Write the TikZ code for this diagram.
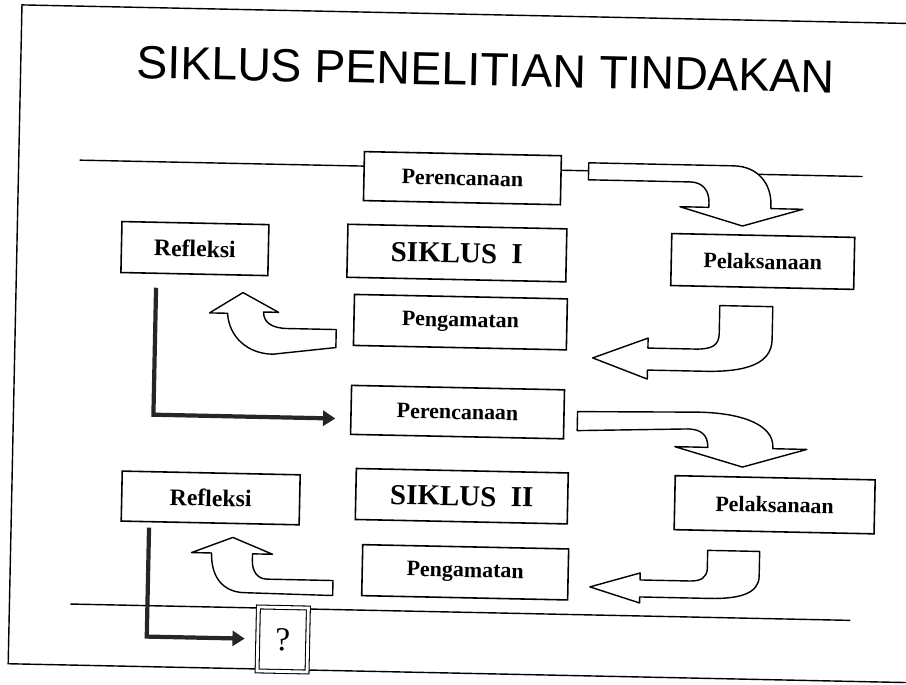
\documentclass[tikz,border=0pt]{standalone}
\usepackage{fontspec}
\setmainfont{Liberation Serif}
\newfontfamily\judulfont{Liberation Sans}
\usetikzlibrary{arrows.meta}
\tikzset{
	kotak/.style = {draw=black, fill=white, line width=0.9pt, inner sep=0pt,
		align=center, font=\fontsize{12.5}{15}\selectfont\bfseries},% kotak biasa
	kotak_s/.style = {kotak, font=\fontsize{16.5}{20}\selectfont\bfseries},% kotak siklus
	kotak_r/.style = {kotak, font=\fontsize{13.5}{16}\selectfont\bfseries},% kotak refleksi
	kotak_q/.style = {draw=black, fill=white, double, double distance=1.6pt,
		line width=0.6pt, inner sep=0pt, font=\fontsize{19}{22}\selectfont},% kotak tanya
	panah/.style = {draw=black, fill=white, line width=0.8pt, line join=round},% panah blok
	garis/.style = {draw=black!85, line width=2.4pt,
		-{Triangle[length=7pt,width=8.5pt]}}% panah tebal
}
\begin{document}
\begin{tikzpicture}[x=0.02cm, y=-0.02cm]
	\clip (0,0) rectangle (906,685);
	\begin{scope}[rotate around={-1.2:(453,342)}, transform shape]
	% bingkai dan garis
	\draw[line width=0.8pt] (930,14) -- (15,14) -- (15,673) -- (930,673);
	\draw[line width=0.8pt] (76,168) -- (859,168);
	\draw[line width=0.8pt] (76,612) -- (856,612);
	\node (judul) at (480,69) {\judulfont\fontsize{26.5}{30}\selectfont SIKLUS PENELITIAN TINDAKAN};
	% siklus I
	\node[kotak, minimum width=3.94cm, minimum height=0.98cm] (per1) at (459,178) {Perencanaan};
	\node[kotak_s, minimum width=4.38cm, minimum height=1.06cm] (sik1) at (455,253) {SIKLUS\ \ I};
	\node[kotak, minimum width=3.66cm, minimum height=1.04cm] (pel1) at (761,255) {Pelaksanaan};
	\node[kotak, minimum width=4.26cm, minimum height=1.02cm] (pen1) at (460,322) {Pengamatan};
	\node[kotak_r, minimum width=2.94cm, minimum height=1.02cm] (ref1) at (193,254) {Refleksi};
	% siklus II
	\node[kotak, minimum width=4.26cm, minimum height=0.98cm] (per2) at (459,412) {Perencanaan};
	\node[kotak_s, minimum width=4.24cm, minimum height=1.02cm] (sik2) at (465,496) {SIKLUS\ \ II};
	\node[kotak, minimum width=4.0cm, minimum height=1.08cm] (pel2) at (778,498) {Pelaksanaan};
	\node[kotak, minimum width=4.12cm, minimum height=1.02cm] (pen2) at (470,572) {Pengamatan};
	\node[kotak_r, minimum width=3.56cm, minimum height=1.0cm] (ref2) at (214,503) {Refleksi};
	\node[kotak_q, minimum width=1.0cm, minimum height=1.28cm] (tanya) at (289,643) {?};
	% panah blok
	\draw[panah] (585,160) -- (730,160) .. controls (755,160) and (768,178) .. (768,198)
		-- (768,202) -- (800,202) -- (740,220) -- (677,202) -- (706,202) -- (706,197)
		.. controls (706,185) and (699,177) .. (687,177) -- (585,177) -- cycle;
	\draw[panah] (719,300) -- (772,300) -- (772,333) .. controls (772,358) and (745,366) .. (705,366)
		-- (648,366) -- (648,375) -- (593,355) -- (648,334) -- (648,344) -- (695,344)
		.. controls (712,344) and (719,340) .. (719,328) -- cycle;
	\draw[panah] (336,332) -- (287,332) .. controls (271,332) and (263,326) .. (263,316)
		-- (278,316) -- (242,297) -- (209,318) -- (227,318)
		.. controls (229,342) and (248,358) .. (273,358) -- (336,350) -- cycle;
	\draw[panah] (579,409) -- (700,407) .. controls (748,407) and (775,420) .. (775,440)
		-- (775,442) -- (809,442) -- (745,461) -- (677,442) -- (710,442)
		.. controls (710,430) and (703,424) .. (690,424) -- (579,428) -- cycle;
	\draw[panah] (712,545) -- (764,545) -- (764,570) .. controls (764,587) and (745,593) .. (715,593)
		-- (645,593) -- (645,599) -- (595,584) -- (645,569) -- (645,576) -- (695,576)
		.. controls (706,576) and (712,572) .. (712,563) -- cycle;
	\draw[panah] (338,583) -- (272,583) .. controls (262,583) and (257,575) .. (257,565)
		-- (257,558) -- (277,558) -- (237,542) -- (196,558) -- (216,558)
		.. controls (216,582) and (228,597) .. (250,597) -- (338,598) -- cycle;
	% panah tebal
	\coordinate (l1a) at (155,294);
	\coordinate (l1b) at (337,421);
	\coordinate (l2a) at (153,534);
	\coordinate (l2b) at (251,643);
	\draw[garis] (l1a) |- (l1b);
	\draw[garis] (l2a) |- (l2b);
	\end{scope}
\end{tikzpicture}
\end{document}
